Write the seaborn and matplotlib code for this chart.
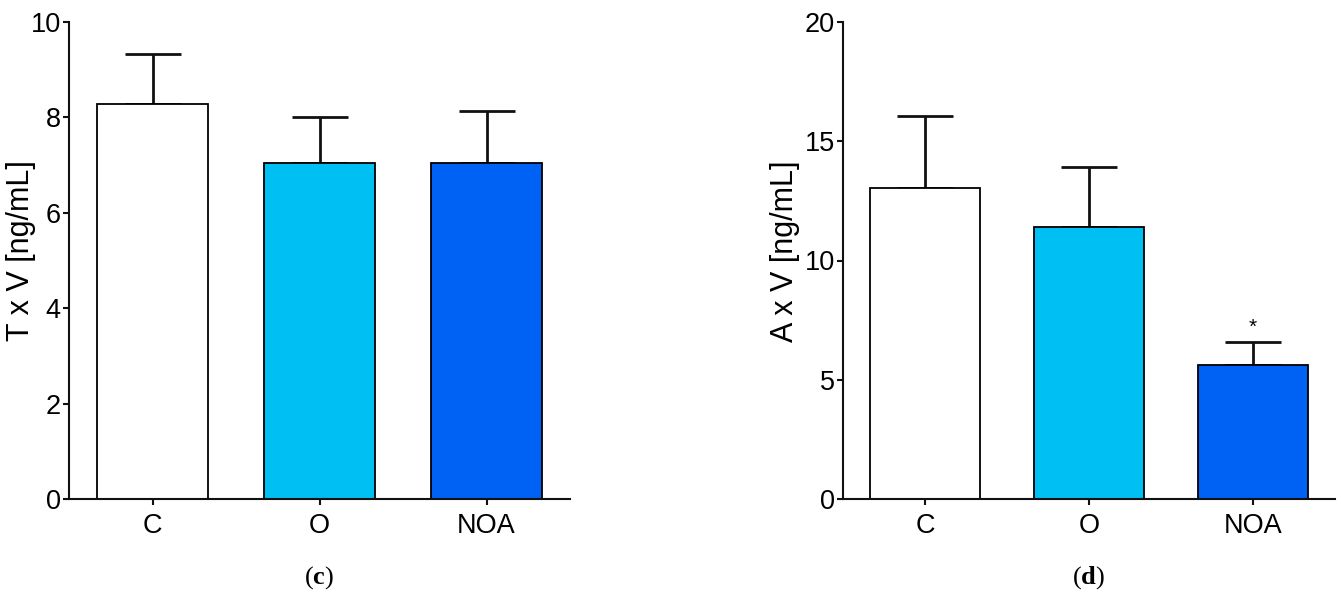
import numpy as np
import pandas as pd
import matplotlib
matplotlib.use("Agg")
import matplotlib.pyplot as plt
import matplotlib.transforms as mtransforms
import seaborn as sns

# -----------------------------------------
# data
# -----------------------------------------
groups = ["C", "O", "NOA"]
bar_colors = ["#FFFFFF", "#00BFF3", "#0061F5"]

# panel (c): T x V
txv_mean = [8.29, 7.04, 7.04]
txv_err = [1.04, 0.96, 1.10]

# panel (d): A x V
axv_mean = [13.06, 11.42, 5.61]
axv_err = [3.01, 2.51, 0.96]
axv_star = ["", "", "*"]

sns.set_theme(style="ticks")
plt.rcParams["font.family"] = ["Liberation Sans", "DejaVu Sans"]
plt.rcParams["mathtext.fontset"] = "custom"
plt.rcParams["mathtext.bf"] = "Liberation Serif:bold"
plt.rcParams["mathtext.rm"] = "Liberation Serif"
plt.rcParams["text.color"] = "black"
plt.rcParams["axes.labelcolor"] = "black"
plt.rcParams["xtick.color"] = "black"
plt.rcParams["ytick.color"] = "black"

fig = plt.figure(figsize=(13.41, 5.99), dpi=100)
ax1 = fig.add_axes([69 / 1341, 100 / 599, 501 / 1341, 477 / 599])
ax2 = fig.add_axes([843 / 1341, 100 / 599, 492 / 1341, 477 / 599])


def draw_panel(ax, means, errs, ylabel, ymax, ystep, label_x, tag, stars=None):
    df = pd.DataFrame({"group": groups, "value": means})
    sns.barplot(data=df, x="group", y="value", hue="group",
                palette=bar_colors, order=groups, width=0.665,
                saturation=1, edgecolor="black", linewidth=1.3,
                errorbar=None, legend=False, ax=ax, zorder=2)
    x = np.arange(len(groups))
    ax.errorbar(x, means, yerr=[np.zeros(len(errs)), errs], fmt="none",
                ecolor="#111111", elinewidth=2.0, capsize=20.5,
                capthick=2.0, zorder=1)
    if stars:
        for xi, m, e, s in zip(x, means, errs, stars):
            if s:
                ax.annotate(s, (xi, m + e), xytext=(0, 4),
                            textcoords="offset points", ha="center",
                            va="bottom", fontsize=15)
    ax.set_xlim(-0.5, 2.5)
    ax.set_ylim(0, ymax)
    ax.set_yticks(np.arange(0, ymax + 0.01, ystep))
    ax.set_xlabel("")
    ax.set_ylabel(ylabel, fontsize=22)
    ax.yaxis.set_label_coords(label_x, 0.52)
    ax.tick_params(axis="both", labelsize=19.5, width=1.5, color="#111111")
    ax.tick_params(axis="y", length=4, pad=2)
    ax.tick_params(axis="x", length=4, pad=6)
    for side in ["top", "right"]:
        ax.spines[side].set_visible(False)
    for side in ["left", "bottom"]:
        ax.spines[side].set_linewidth(1.5)
        ax.spines[side].set_color("#111111")

    # panel tag centred under the middle bar
    trans = mtransforms.blended_transform_factory(ax.transData, fig.transFigure)
    ax.text(1, 1 - 578 / 599, tag, transform=trans, ha="center",
            va="center", fontsize=19, family="Liberation Serif")


draw_panel(ax1, txv_mean, txv_err, "T x V [ng/mL]", 10, 2, -0.066,
           r"($\mathbf{c}$)")
draw_panel(ax2, axv_mean, axv_err, "A x V [ng/mL]", 20, 5, -0.087,
           r"($\mathbf{d}$)", axv_star)

fig.savefig("out.png", dpi=100, facecolor="white")
